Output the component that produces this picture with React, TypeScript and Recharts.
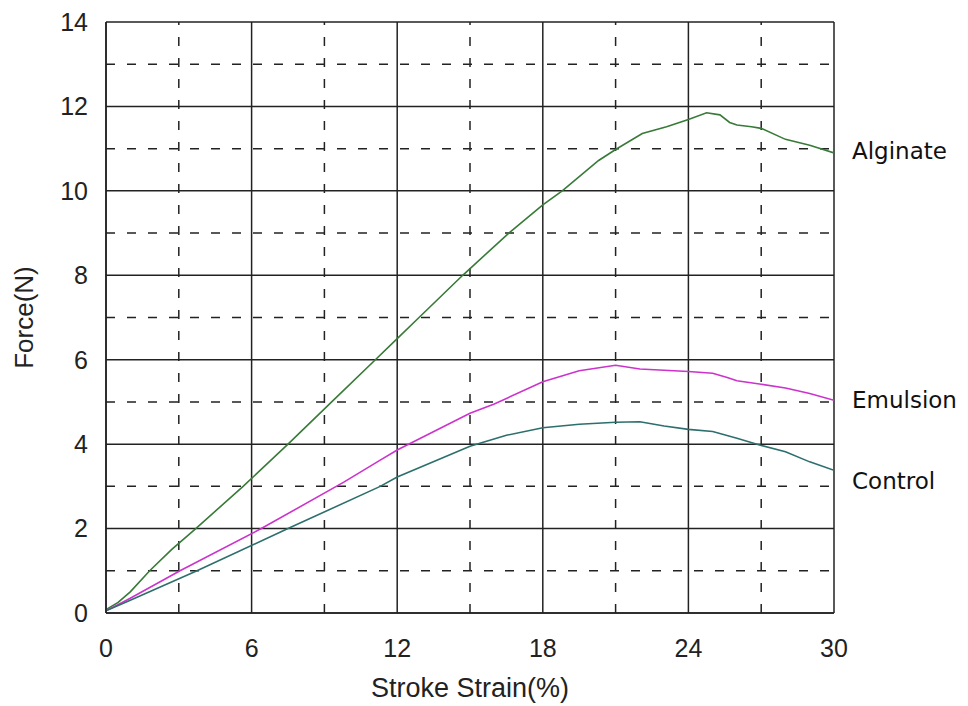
import React from 'react';
import { LineChart, Line, XAxis, YAxis, CartesianGrid, ReferenceLine } from 'recharts';

// Stroke strain (%) vs force (N)
const alginateStrain = [0, 0.5, 1, 1.8, 2.7, 3.7, 5.65, 7.5, 9.3, 11.1, 12, 12.9, 14.7, 16.6, 18, 18.8, 20.3, 21, 22.1, 23.1, 24, 24.75, 25.3, 25.7, 26, 26.6, 27, 28, 29, 30];
const alginateForce = [0.08, 0.25, 0.5, 1, 1.5, 2, 3, 4, 5, 6, 6.5, 7, 8, 9, 9.67, 10, 10.72, 10.98, 11.36, 11.52, 11.69, 11.85, 11.8, 11.62, 11.56, 11.52, 11.48, 11.22, 11.08, 10.9];

const emulsionStrain = [0, 1, 3.05, 6.4, 9.8, 11.3, 12, 15, 16, 18, 19.5, 21, 22, 23, 24, 25, 25.6, 26, 27, 28, 29, 30];
const emulsionForce = [0.05, 0.35, 1, 2, 3.1, 3.62, 3.86, 4.73, 4.95, 5.48, 5.74, 5.87, 5.78, 5.75, 5.72, 5.68, 5.58, 5.5, 5.42, 5.33, 5.2, 5.04];

const controlStrain = [0, 1, 3.75, 7.5, 11.3, 12, 15, 16.5, 18, 19.5, 21, 22, 23, 24, 25, 26, 27, 28, 29, 30];
const controlForce = [0.05, 0.3, 1, 2, 3, 3.22, 3.95, 4.21, 4.39, 4.47, 4.52, 4.53, 4.43, 4.35, 4.3, 4.14, 3.97, 3.82, 3.58, 3.38];

const xTicks = [0, 6, 12, 18, 24, 30];
const yTicks = [0, 2, 4, 6, 8, 10, 12, 14];
const xMinor = [3, 9, 15, 21, 27];
const yMinor = [1, 3, 5, 7, 9, 11, 13];

const toPoints = (xs: number[], ys: number[]) => xs.map((x, i) => ({ x, y: ys[i] }));

const series = [
  { name: 'Alginate', data: toPoints(alginateStrain, alginateForce), color: '#387a38', labelDy: -2 },
  { name: 'Emulsion', data: toPoints(emulsionStrain, emulsionForce), color: '#cc33cc', labelDy: 0 },
  { name: 'Control', data: toPoints(controlStrain, controlForce), color: '#2c6f6c', labelDy: 11 },
];

const tickStyle = { fontFamily: '"Liberation Sans", Arial, sans-serif', fontSize: 25, fill: '#222' };
const gridColor = '#222';

const App = () => {
  return (
    <div style={{ width: 960, height: 698 }}>
      <LineChart width={960} height={698} margin={{ top: 14, right: 134, left: 0, bottom: 8 }}>
        <CartesianGrid stroke={gridColor} strokeWidth={1.5} />
        {xMinor.map(v => (
          <ReferenceLine key={`x${v}`} x={v} stroke={gridColor} strokeWidth={1.5} strokeDasharray="9 12" />
        ))}
        {yMinor.map(v => (
          <ReferenceLine key={`y${v}`} y={v} stroke={gridColor} strokeWidth={1.5} strokeDasharray="9 12" />
        ))}
        <XAxis
          type="number"
          dataKey="x"
          domain={[0, 30]}
          ticks={xTicks}
          allowDataOverflow
          height={85}
          tickSize={0}
          tickMargin={26}
          tickLine={false}
          axisLine={{ stroke: gridColor, strokeWidth: 1.5 }}
          tick={tickStyle}
          label={{
            value: 'Stroke Strain(%)',
            position: 'insideBottom',
            offset: 1,
            style: { fontFamily: '"Liberation Sans", Arial, sans-serif', fontSize: 27, fill: '#222' },
          }}
        />
        <YAxis
          type="number"
          domain={[0, 14]}
          ticks={yTicks}
          allowDataOverflow
          width={98}
          tickSize={0}
          tickMargin={18}
          tickLine={false}
          axisLine={{ stroke: gridColor, strokeWidth: 1.5 }}
          tick={tickStyle}
          label={{
            value: 'Force(N)',
            angle: -90,
            position: 'insideLeft',
            offset: 16,
            style: { fontFamily: '"Liberation Sans", Arial, sans-serif', fontSize: 26, fill: '#222', textAnchor: 'middle' },
          }}
        />
        {series.map(s => (
          <Line
            key={s.name}
            data={s.data}
            dataKey="y"
            type="linear"
            stroke={s.color}
            strokeWidth={1.6}
            dot={false}
            isAnimationActive={false}
            label={(p: any) =>
              p.index === s.data.length - 1 ? (
                <text
                  key={`lbl-${s.name}`}
                  x={p.x + 18}
                  y={p.y + s.labelDy}
                  dominantBaseline="central"
                  fontFamily='"DejaVu Sans", Verdana, sans-serif'
                  fontSize={23}
                  fill="#111"
                >
                  {s.name}
                </text>
              ) : null
            }
          />
        ))}
      </LineChart>
    </div>
  );
};

export default App;
